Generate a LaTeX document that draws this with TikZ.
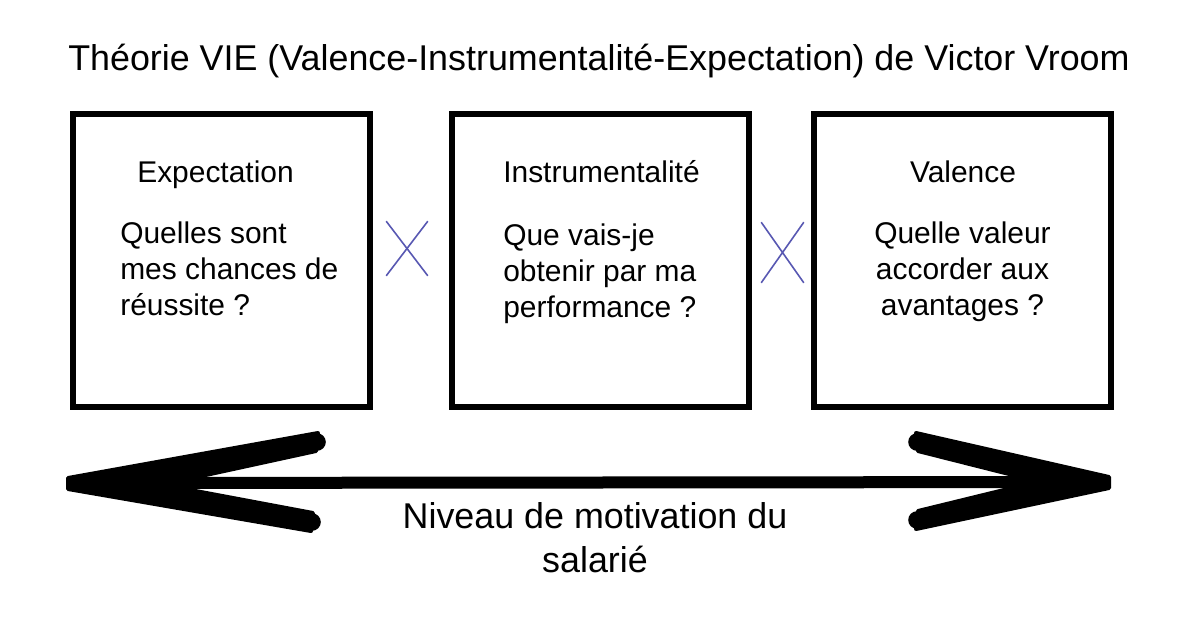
\documentclass[tikz,border=0pt]{standalone}
\usepackage{fontspec}
\setmainfont{Liberation Sans}
\usetikzlibrary{positioning,shapes.misc}
\definecolor{crossblue}{RGB}{88,88,178}

\begin{document}
\begin{tikzpicture}[
		bigbox/.style={rectangle,draw,line width=0.15cm,minimum width=7.425cm,minimum height=7.325cm},
		boxtext/.style={inner sep=0,font=\fontsize{21.3}{25.6}\selectfont},
		bigtext/.style={inner sep=0,font=\fontsize{25.5}{30.6}\selectfont},
		smallcross/.style={cross out,draw=crossblue,line width=0.04cm,inner sep=0}
		]
		\useasboundingbox (0,0) rectangle (30,-15.75);

		\node[bigtext, anchor=base west] (T) at (1.7,-1.75) {Théorie VIE (Valence-Instrumentalité-Expectation) de Victor Vroom};

		\node[bigbox] (B1) at (5.525,-6.5125) {};
		\node[bigbox, right=1.9cm of B1] (B2) {};
		\node[bigbox, right=1.475cm of B2] (B3) {};

		\node[boxtext, anchor=base west] (H1) at (3.425,-4.55) {Expectation};
		\node[boxtext, anchor=base west, align=left] (Q1) at (3.0,-7.875) {Quelles sont\\mes chances de\\réussite ?};
		\node[boxtext, anchor=base west] (H2) at (12.575,-4.55) {Instrumentalité};
		\node[boxtext, anchor=base west, align=left] (Q2) at (12.575,-7.925) {Que vais-je\\obtenir par ma\\performance ?};
		\node[boxtext, anchor=base] (H3) at (24.075,-4.55) {Valence};
		\node[boxtext, anchor=base, align=center] (Q3) at (24.0625,-7.875) {Quelle valeur\\accorder aux\\avantages ?};

		\node[smallcross, minimum width=1cm, minimum height=1.325cm] (X1) at (10.175,-6.2125) {};
		\node[smallcross, minimum width=1.025cm, minimum height=1.475cm] (X2) at (19.5625,-6.3125) {};

		\coordinate (L) at (1.675,-12.075);
		\coordinate (R) at (27.75,-12.05);
		\draw[line width=0.3cm] (L) -- (R);
		\filldraw[line width=0.1cm, line join=round] (1.7,-11.95) -- (7.95,-10.825) -- (7.9,-11.275) -- (4.8,-11.95)
			-- (4.625,-12.225) -- (7.825,-12.825) -- (7.775,-13.275) -- (1.7,-12.225) -- cycle;
		\fill (7.925,-11.05) circle (0.22);
		\fill (7.8,-13.05) circle (0.22);
		\filldraw[line width=0.1cm, line join=round] (27.725,-11.925) -- (22.9,-10.825) -- (22.95,-11.275) -- (25.425,-11.9)
			-- (25.2,-12.225) -- (22.95,-12.775) -- (22.9,-13.225) -- (27.725,-12.2) -- cycle;
		\fill (22.925,-11.05) circle (0.22);
		\fill (22.925,-13.0) circle (0.22);

		\node[bigtext, anchor=base, align=center] (N) at (14.875,-14.3) {Niveau de motivation du\\salarié};
	\end{tikzpicture}
\end{document}
